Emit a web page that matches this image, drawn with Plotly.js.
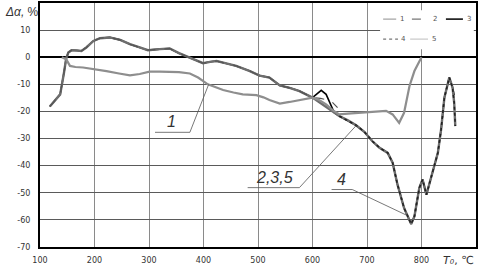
<!DOCTYPE html>
<html>
<head>
<meta charset="utf-8">
<script src="https://cdn.plot.ly/plotly-3.0.1.min.js"></script>
<style>html,body{margin:0;padding:0;background:#fff;}#chart{width:483px;height:272px;}</style>
</head>
<body>
<div id="chart"></div>
<script>
// ---- data ----
var mainT = [118,130,137,144,148,152,158,168,176,185,198,210,228,247,265,283,298,320,338,355,369,385,399,412,424,440,460,485,503,521,540,558,576,600,615,631,649,665,680,695,710,723,738,747,756,768,778,781,787,796,802,809,820,830,836,842,851,857,860,862];
var mainV = [-18.2,-15.5,-13.7,-5.7,-0.5,1.7,2.6,2.5,2.3,3.6,6.0,7.0,7.3,6.4,4.8,3.6,2.6,3.0,3.2,1.5,0.3,-1.2,-2.2,-1.7,-1.4,-2.2,-3.2,-5.1,-6.8,-7.5,-10.4,-11.3,-12.5,-14.9,-17.0,-19.2,-21.7,-23.3,-25.1,-27.5,-31.0,-33.4,-35.3,-38.9,-47.0,-55.6,-59.9,-61.5,-58.7,-48.2,-45.1,-50.7,-42.6,-35.3,-26.6,-14.9,-7.5,-11.2,-16.8,-25.4];

var c1T = [140,148,155,165,179,200,222,245,265,283,301,320,338,355,375,390,408,420,436,455,472,497,510,521,540,558,576,600,612,625,637,649,665,686,710,735,747,759,768,773,778,787,794,800];
var c1V = [0,-0.7,-3.2,-3.6,-3.8,-4.3,-5.1,-6.0,-6.7,-6.2,-5.3,-5.3,-5.3,-5.5,-6.0,-7.5,-10.0,-11.0,-12.1,-13.0,-13.7,-14.0,-14.8,-15.8,-17.1,-16.5,-15.9,-14.9,-15.8,-17.4,-19.5,-21.1,-20.8,-20.5,-20.3,-19.8,-21.1,-24.2,-20.5,-15.5,-10.6,-5.1,-2.5,0];

var c2T = [118,130,137,144,148,152,158,168,176,185,198,210,228,247,265,283,298,320,338,355,369,385,399,412,424,440,460,485,503,521,540,558,576,600,615,634,646];
var c2V = [-18.2,-15.5,-13.7,-5.7,-0.5,1.7,2.6,2.5,2.3,3.6,6.0,7.0,7.3,6.4,4.8,3.6,2.6,3.0,3.2,1.5,0.3,-1.2,-2.2,-1.7,-1.4,-2.2,-3.2,-5.1,-6.8,-7.5,-10.4,-11.3,-12.5,-14.9,-15.2,-16.1,-18.6];

var c3T = [118,130,137,144,148,152,158,168,176,185,198,210,228,247,265,283,298,320,338,355,369,385,399,412,424,440,460,485,503,521,540,558,576,600,610,616,625,634,640,649,665,680,695,710,723,738,747,756,768,778,781,787,796,802,809,820,830,836,842,851,857,860];
var c3V = [-18.2,-15.5,-13.7,-5.7,-0.5,1.7,2.6,2.5,2.3,3.6,6.0,7.0,7.3,6.4,4.8,3.6,2.6,3.0,3.2,1.5,0.3,-1.2,-2.2,-1.7,-1.4,-2.2,-3.2,-5.1,-6.8,-7.5,-10.4,-11.3,-12.5,-14.9,-13.0,-12.2,-13.7,-18.0,-20.5,-21.7,-23.3,-25.1,-27.5,-31.0,-33.4,-35.3,-38.9,-47.0,-55.6,-59.9,-61.5,-58.7,-48.2,-45.1,-50.7,-42.6,-35.3,-26.6,-14.9,-7.5,-11.2,-14.0];

var c4T = [649,665,680,695,710,723,738,747,756,768,778,781,787,796,802,809,820,830,836,842,851,857,860,862];
var c4V = [-21.7,-23.3,-25.1,-27.5,-31.0,-33.4,-35.3,-38.9,-47.0,-55.6,-59.9,-61.5,-58.7,-48.2,-45.1,-50.7,-42.6,-35.3,-26.6,-14.9,-7.5,-11.2,-16.8,-25.4];

var xTicks = [100,200,300,400,500,600,700,800];
var yTicks = [-70,-60,-50,-40,-30,-20,-10,0,10];
var seriesNames = ['1','2','3','4','5'];

// ---- traces ----
var traces = [
  {x: c3T, y: c3V, name: seriesNames[2], mode: 'lines', line: {color: '#000000', width: 1.6}},
  {x: mainT, y: mainV, name: seriesNames[4], mode: 'lines', line: {color: '#6e6e6e', width: 2.4}},
  {x: c2T, y: c2V, name: seriesNames[1], mode: 'lines', line: {color: '#555555', width: 1.2, dash: 'dash'}},
  {x: c4T, y: c4V, name: seriesNames[3], mode: 'lines', line: {color: '#222222', width: 1.6, dash: 'dot'}},
  {x: c1T, y: c1V, name: seriesNames[0], mode: 'lines', line: {color: '#8e8e8e', width: 2.2}}
];

var lblFont = {family: 'Liberation Sans, Arial, sans-serif', size: 16, color: '#333'};
var legFont = {family: 'DejaVu Sans, sans-serif', size: 7, color: '#555'};

var shapes = [
  // legend box
  {type: 'rect', xref: 'paper', yref: 'paper', x0: 0.78, x1: 0.995, y0: 0.81, y1: 0.97, fillcolor: '#ffffff', line: {width: 0}, layer: 'above'},
  {type: 'line', xref: 'paper', yref: 'paper', x0: 0.787, x1: 0.817, y0: 0.934, y1: 0.934, line: {color: '#8e8e8e', width: 1}},
  {type: 'line', xref: 'paper', yref: 'paper', x0: 0.853, x1: 0.894, y0: 0.934, y1: 0.934, line: {color: '#555', width: 1, dash: 'dash'}},
  {type: 'line', xref: 'paper', yref: 'paper', x0: 0.931, x1: 0.970, y0: 0.934, y1: 0.934, line: {color: '#000', width: 1.5}},
  {type: 'line', xref: 'paper', yref: 'paper', x0: 0.787, x1: 0.821, y0: 0.852, y1: 0.852, line: {color: '#777', width: 1.2, dash: 'dot'}},
  {type: 'line', xref: 'paper', yref: 'paper', x0: 0.849, x1: 0.890, y0: 0.852, y1: 0.852, line: {color: '#c8c8c8', width: 1.2}},
  // leader lines
  {type: 'line', x0: 311, x1: 375, y0: -27.7, y1: -27.7, line: {color: '#555', width: 0.8}},
  {type: 'line', x0: 375, x1: 409.5, y0: -27.7, y1: -10, line: {color: '#555', width: 0.8}},
  {type: 'line', x0: 481, x1: 576, y0: -48.1, y1: -48.1, line: {color: '#555', width: 0.8}},
  {type: 'line', x0: 576, x1: 680.6, y0: -48.1, y1: -25.1, line: {color: '#555', width: 0.8}},
  {type: 'line', x0: 635, x1: 673, y0: -48.8, y1: -48.8, line: {color: '#555', width: 0.8}},
  {type: 'line', x0: 673, x1: 774, y0: -48.8, y1: -58.4, line: {color: '#555', width: 0.8}}
];

var annotations = [
  {text: '<i>1</i>', x: 342, y: -27.7, xanchor: 'center', yanchor: 'bottom', showarrow: false, font: lblFont},
  {text: '<i>2,3,5</i>', x: 530, y: -48.1, xanchor: 'center', yanchor: 'bottom', showarrow: false, font: lblFont},
  {text: '<i>4</i>', x: 654, y: -48.8, xanchor: 'center', yanchor: 'bottom', showarrow: false, font: lblFont},
  {text: '<i>Δα,</i> %', xref: 'paper', yref: 'paper', x: -0.085, y: 1.0, xanchor: 'left', yanchor: 'top', showarrow: false, font: {family: 'Liberation Sans, Arial, sans-serif', size: 12, color: '#333'}},
  {text: '<i>T₀</i>, ℃', xref: 'paper', yref: 'paper', x: 1.0, y: -0.02, xanchor: 'right', yanchor: 'top', showarrow: false, font: {family: 'DejaVu Sans, sans-serif', size: 11, color: '#333'}},
  // legend texts
  {text: seriesNames[0], xref: 'paper', yref: 'paper', x: 0.822, y: 0.934, xanchor: 'left', yanchor: 'middle', showarrow: false, font: legFont},
  {text: seriesNames[1], xref: 'paper', yref: 'paper', x: 0.897, y: 0.934, xanchor: 'left', yanchor: 'middle', showarrow: false, font: legFont},
  {text: seriesNames[2], xref: 'paper', yref: 'paper', x: 0.974, y: 0.934, xanchor: 'left', yanchor: 'middle', showarrow: false, font: legFont},
  {text: seriesNames[3], xref: 'paper', yref: 'paper', x: 0.824, y: 0.852, xanchor: 'left', yanchor: 'middle', showarrow: false, font: legFont},
  {text: seriesNames[4], xref: 'paper', yref: 'paper', x: 0.895, y: 0.852, xanchor: 'left', yanchor: 'middle', showarrow: false, font: legFont}
];

var layout = {
  width: 483, height: 272,
  margin: {l: 40, r: 7, t: 3, b: 25, pad: 0},
  paper_bgcolor: '#ffffff', plot_bgcolor: '#ffffff',
  showlegend: false,
  font: {family: 'DejaVu Sans, sans-serif', size: 8, color: '#333'},
  xaxis: {
    range: [100, 900], tickvals: xTicks, ticktext: xTicks.map(String),
    showgrid: true, gridcolor: '#8a8a8a', gridwidth: 1,
    zeroline: false, showline: true, linecolor: '#000', linewidth: 2, mirror: true,
    ticks: '', ticklabelstandoff: 4, fixedrange: true
  },
  yaxis: {
    range: [-70, 20], tickvals: yTicks, ticktext: yTicks.map(String),
    showgrid: true, gridcolor: '#5a5a5a', gridwidth: 1,
    zeroline: true, zerolinecolor: '#000', zerolinewidth: 2,
    showline: true, linecolor: '#000', linewidth: 2, mirror: true,
    ticks: '', ticklabelstandoff: 6, fixedrange: true
  },
  shapes: shapes,
  annotations: annotations
};

Plotly.newPlot('chart', traces, layout, {staticPlot: true, displayModeBar: false});
</script>
</body>
</html>
